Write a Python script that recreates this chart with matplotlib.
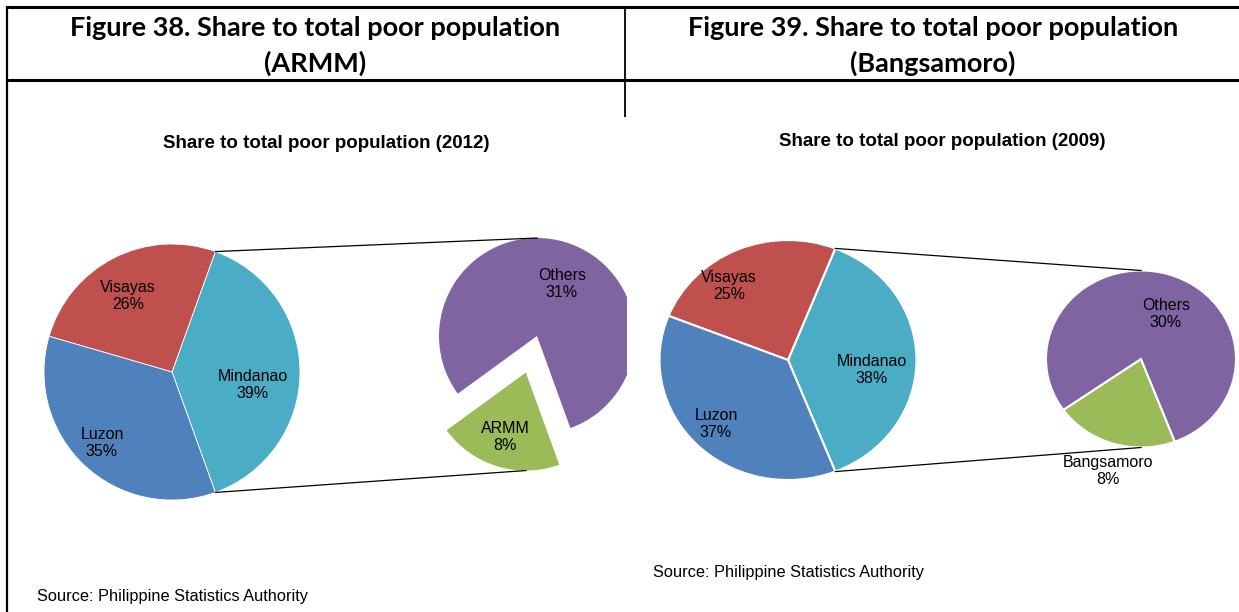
import numpy as np
import matplotlib
matplotlib.use("Agg")
import matplotlib.pyplot as plt

# ---- data -------------------------------------------------------------
regions = ["Mindanao", "Visayas", "Luzon"]
share_2012 = [39, 26, 35]
share_2009 = [38, 25, 37]

split_2012_labels = ["ARMM", "Others"]
split_2012 = [8, 31]
split_2009_labels = ["Bangsamoro", "Others"]
split_2009 = [8, 30]

region_colors = ["#4BACC6", "#C0504D", "#4F81BD"]
split_colors = ["#9BBB59", "#8064A2"]

# ---- layout (pixel units) ---------------------------------------------
W, H = 1239, 612
fig = plt.figure(figsize=(W / 100, H / 100), dpi=100)
fig.patch.set_facecolor("white")


def pie_axes(cx, cy, rx, ry, xmin=-1.45, xmax=1.45, ymin=-1.45, ymax=1.45):
    left = cx + xmin * rx
    right = cx + xmax * rx
    top = cy - ymax * ry
    bottom = cy - ymin * ry
    ax = fig.add_axes([left / W, 1 - bottom / H, (right - left) / W, (bottom - top) / H])
    ax.set_axis_off()
    return ax, (xmin, xmax, ymin, ymax)


def draw_pie(cx, cy, rx, ry, values, colors, start, explode=None, edge="white",
             lw=0.6, xmax=1.45):
    ax, lims = pie_axes(cx, cy, rx, ry, xmax=xmax)
    wedges, _ = ax.pie(values, colors=colors, startangle=start, counterclock=True,
                       radius=1.0, explode=explode,
                       wedgeprops=dict(edgecolor=edge, linewidth=lw))
    ax.set_xlim(lims[0], lims[1])
    ax.set_ylim(lims[2], lims[3])
    ax.set_aspect("auto")
    for w in wedges:
        w.set_clip_on(True)
        w.set_clip_path(ax.patch)
    return wedges


def pt(cx, cy, rx, ry, ang):
    a = np.deg2rad(ang)
    return cx + rx * np.cos(a), cy - ry * np.sin(a)


# main pies: Mindanao centred on the right-hand side
start12 = -share_2012[0] * 3.6 / 2
start09 = -share_2009[0] * 3.6 / 2

# 2012 (left panel)
c1 = (172, 372, 128, 128)
draw_pie(*c1, share_2012, region_colors, start12, lw=0.6)

# ARMM breakdown, clipped by the panel divider
c2 = (537, 336, 98, 98)
span12 = split_2012[0] / sum(split_2012) * 360
sub_start12 = 253 - span12 / 2
expl = 0.39
draw_pie(*c2, split_2012, split_colors, sub_start12, explode=[expl, 0],
         lw=0, edge="none", xmax=(627 - c2[0]) / c2[2])

# 2009 (right panel), slightly stretched horizontally
c3 = (788, 360, 128.5, 120)
draw_pie(*c3, share_2009, region_colors, start09, lw=1.5)

c4 = (1141, 359, 95, 88.5)
span09 = split_2009[0] / sum(split_2009) * 360
sub_start09 = 253 - span09 / 2
draw_pie(*c4, split_2009, split_colors, sub_start09, lw=1.5)

# ---- overlay: frame, connectors, text ---------------------------------
ov = fig.add_axes([0, 0, 1, 1])
ov.set_xlim(0, W)
ov.set_ylim(H, 0)
ov.set_axis_off()
ov.patch.set_alpha(0)

# table frame
ov.plot([6, W], [7, 7], color="black", lw=2.2, solid_capstyle="butt")
ov.plot([6, W], [80, 80], color="black", lw=2.2, solid_capstyle="butt")
ov.plot([7, 7], [6, H], color="black", lw=1.6, solid_capstyle="butt")
ov.plot([625, 625], [7, 117], color="black", lw=1.3, solid_capstyle="butt")

# connectors 2012
p_top = pt(*c1, -start12)
p_bot = pt(*c1, start12)
q_top = pt(*c2, 90)
ex_cx = c2[0] + expl * c2[2] * np.cos(np.deg2rad(253))
ex_cy = c2[1] - expl * c2[3] * np.sin(np.deg2rad(253))
q_bot = (ex_cx, ex_cy + c2[3])
ov.plot([p_top[0], q_top[0]], [p_top[1], q_top[1]], color="black", lw=0.9)
ov.plot([p_bot[0], q_bot[0]], [p_bot[1], q_bot[1]], color="black", lw=0.9)

# connectors 2009
p_top = pt(*c3, -start09)
p_bot = pt(*c3, start09)
q_top = pt(*c4, 90)
q_bot = pt(*c4, 270)
ov.plot([p_top[0], q_top[0]], [p_top[1], q_top[1]], color="black", lw=0.9)
ov.plot([p_bot[0], q_bot[0]], [p_bot[1], q_bot[1]], color="black", lw=0.9)

# headings
head = dict(family="Lato", fontweight="bold", fontsize=19.5, ha="center", va="center",
            color="black")
ov.text(315, 28, "Figure 38. Share to total poor population", **head)
ov.text(315, 63, "(ARMM)", **head)
ov.text(933, 28, "Figure 39. Share to total poor population", **head)
ov.text(933, 63, "(Bangsamoro)", **head)

sub = dict(family="Liberation Sans", fontweight="bold", fontsize=13.5, ha="center",
           va="center", color="black")
ov.text(326, 143, "Share to total poor population (2012)", **sub)
ov.text(942, 142, "Share to total poor population (2009)", **sub)

lab = dict(family="Liberation Sans", fontsize=11.5, ha="center", va="center",
           color="black", linespacing=1.2)
pos_2012 = [(253, 385), (128, 296), (102, 443)]
for name, val, (x, y) in zip(regions, share_2012, pos_2012):
    ov.text(x, y, f"{name}\n{val}%", **lab)
pos_split12 = [(505, 437), (562, 284)]
for name, val, (x, y) in zip(split_2012_labels, split_2012, pos_split12):
    ov.text(x, y, f"{name}\n{val}%", **lab)

pos_2009 = [(872, 370), (729, 286), (716, 424)]
for name, val, (x, y) in zip(regions, share_2009, pos_2009):
    ov.text(x, y, f"{name}\n{val}%", **lab)
pos_split09 = [(1108, 471), (1166, 314)]
for name, val, (x, y) in zip(split_2009_labels, split_2009, pos_split09):
    ov.text(x, y, f"{name}\n{val}%", **lab)

src = dict(family="Liberation Sans", fontsize=11.8, ha="left", va="center", color="black")
ov.text(37, 596, "Source: Philippine Statistics Authority", **src)
ov.text(653, 573, "Source: Philippine Statistics Authority", **src)

fig.savefig("out.png", dpi=100, facecolor="white")
